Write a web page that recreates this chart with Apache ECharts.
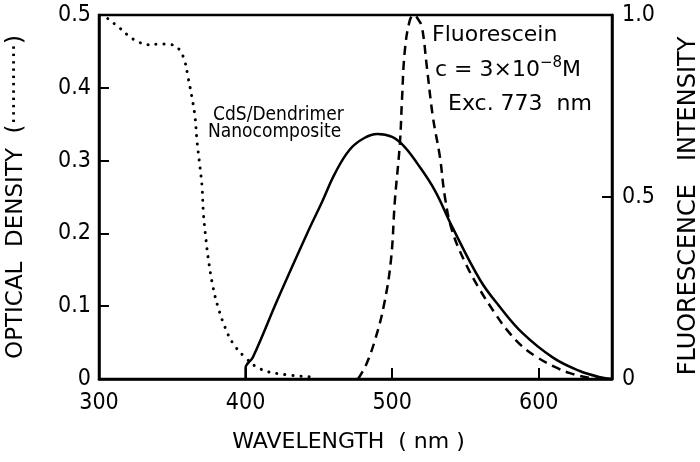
<!DOCTYPE html>
<html><head><meta charset="utf-8">
<script src="https://cdn.jsdelivr.net/npm/echarts@6/dist/echarts.min.js"></script>
<style>html,body{margin:0;padding:0;background:#fff}#c{width:700px;height:462px}</style>
</head><body><div id="c"></div>
<script>
// Optical density (dotted), left axis
const odWavelength = [306, 316, 321, 327, 333, 340, 345, 350, 355, 358.7, 360.7, 363.4, 365.5, 366.8, 368.9, 370.3, 371.2, 373, 375, 377.8, 381.2, 386, 391.4, 399.6, 409.8, 423.5, 444];
const odValues     = [0.495, 0.479, 0.470, 0.463, 0.459, 0.460, 0.460, 0.459, 0.452, 0.435, 0.415, 0.387, 0.360, 0.328, 0.291, 0.264, 0.228, 0.191, 0.159, 0.126, 0.099, 0.071, 0.049, 0.030, 0.014, 0.007, 0.003];
// CdS/Dendrimer nanocomposite fluorescence (solid), right axis
const cdsWavelength = [400, 400, 405, 422, 442, 452, 461, 471, 481, 490, 500, 508, 517, 529, 541, 560, 573.5, 589, 610, 628, 642, 650];
const cdsValues     = [0, 0.03, 0.06, 0.22, 0.40, 0.485, 0.565, 0.630, 0.662, 0.673, 0.665, 0.64, 0.593, 0.519, 0.418, 0.272, 0.198, 0.126, 0.058, 0.022, 0.005, 0];
// Fluorescein fluorescence (dashed), right axis
const flWavelength = [476.7, 482.1, 488.3, 494.4, 499.2, 501.9, 505.3, 506.7, 508.7, 512.1, 514.9, 517.6, 520.3, 523.7, 527.8, 532.6, 536, 540.8, 549.7, 559.9, 570.1, 578.3, 589.2, 598.8, 611, 621.3, 635, 642];
const flValues     = [0, 0.038, 0.107, 0.203, 0.327, 0.492, 0.648, 0.766, 0.904, 0.986, 1.0, 0.989, 0.967, 0.857, 0.72, 0.61, 0.5, 0.409, 0.321, 0.245, 0.181, 0.135, 0.088, 0.06, 0.033, 0.016, 0.003, 0];
// Axis ticks
const xTicks = [300, 400, 500, 600];
const leftTicks = [0, 0.1, 0.2, 0.3, 0.4, 0.5];
const rightTicks = [0, 0.5, 1.0];

const FC = '"DejaVu Sans Condensed", "DejaVu Sans", sans-serif';
const FR = '"DejaVu Sans", sans-serif';
const pair = (xs, ys) => xs.map((x, i) => [x, ys[i]]);
const chart = echarts.init(document.getElementById('c'), null, {renderer: 'canvas'});
const axLine = {show: true, lineStyle: {color: '#000', width: 2.5}};
const fmt = ticks => v => { const t = ticks.find(k => Math.abs(k - v) < 1e-9); return t === undefined ? '' : (t === 0 ? '0' : t.toFixed(1)); };
chart.setOption({
  animation: false,
  backgroundColor: '#fff',
  grid: {left: 99, right: 88, top: 15, bottom: 83, outerBoundsMode: 'none', containLabel: false,
    show: true, borderColor: '#000', borderWidth: 2.5},
  xAxis: {
    type: 'value', min: 300, max: 650, interval: 100,
    axisLine: axLine, splitLine: {show: false},
    axisTick: {inside: true, length: 11, lineStyle: {width: 2, color: '#000'}},
    axisLabel: {color: '#000', fontFamily: FC, fontSize: 23, margin: 13,
      formatter: v => xTicks.includes(v) ? String(v) : ''},
    name: 'WAVELENGTH  ( nm )', nameLocation: 'middle', nameGap: 52,
    nameTextStyle: {color: '#000', fontFamily: FR, fontSize: 22, padding: [0, 14, 0, 0]}
  },
  yAxis: [{
    type: 'value', position: 'left', min: 0, max: 0.5, interval: 0.1,
    axisLine: axLine, splitLine: {show: false},
    axisTick: {inside: true, length: 10, lineStyle: {width: 2, color: '#000'}},
    axisLabel: {color: '#000', fontFamily: FC, fontSize: 23, margin: 8, formatter: fmt(leftTicks)},
    name: 'OPTICAL  DENSITY  (···········)', nameLocation: 'middle', nameGap: 71, nameRotate: 90,
    nameTextStyle: {color: '#000', fontFamily: FR, fontSize: 23}
  }, {
    type: 'value', position: 'right', min: 0, max: 1, interval: 0.5,
    axisLine: axLine, splitLine: {show: false},
    axisTick: {inside: true, length: 10, lineStyle: {width: 2, color: '#000'}},
    axisLabel: {color: '#000', fontFamily: FC, fontSize: 23, margin: 10, formatter: fmt(rightTicks)},
    name: 'FLUORESCENCE   INTENSITY', nameLocation: 'middle', nameGap: 65, nameRotate: 90,
    nameTextStyle: {color: '#000', fontFamily: FR, fontSize: 24, padding: [0, 18, 0, 0]}
  }],
  series: [{
    type: 'line', yAxisIndex: 0, data: pair(odWavelength, odValues), showSymbol: false,
    smooth: 0.4,
    lineStyle: {color: '#000', width: 3, type: [0.1, 8], cap: 'round'}
  }, {
    type: 'line', yAxisIndex: 1, data: pair(cdsWavelength, cdsValues), showSymbol: false,
    smooth: 0.4,
    lineStyle: {color: '#000', width: 2.5, type: 'solid'}
  }, {
    type: 'line', yAxisIndex: 1, data: pair(flWavelength, flValues), showSymbol: false,
    smooth: 0.4,
    lineStyle: {color: '#000', width: 2.5, type: [9, 6]}
  }],
  graphic: [
    {type: 'text', left: 213, top: 106, style: {text: 'CdS/Dendrimer', font: '19px ' + FC, fill: '#000'}},
    {type: 'text', left: 208, top: 123, style: {text: 'Nanocomposite', font: '19px ' + FC, fill: '#000'}},
    {type: 'text', left: 432, top: 24, style: {text: 'Fluorescein', font: '22px ' + FR, fill: '#000'}},
    {type: 'text', left: 435, top: 56, style: {text: '{a|c = 3×10}{s|−8}{a|M}', fill: '#000',
      rich: {a: {font: '22px ' + FR, fill: '#000', verticalAlign: 'bottom'}, s: {font: '15px ' + FR, fill: '#000', verticalAlign: 'top', padding: [0, 0, 10, 0]}}}},
    {type: 'text', left: 448, top: 93, style: {text: 'Exc. 773  nm', font: '22px ' + FR, fill: '#000'}}
  ]
});
</script></body></html>
